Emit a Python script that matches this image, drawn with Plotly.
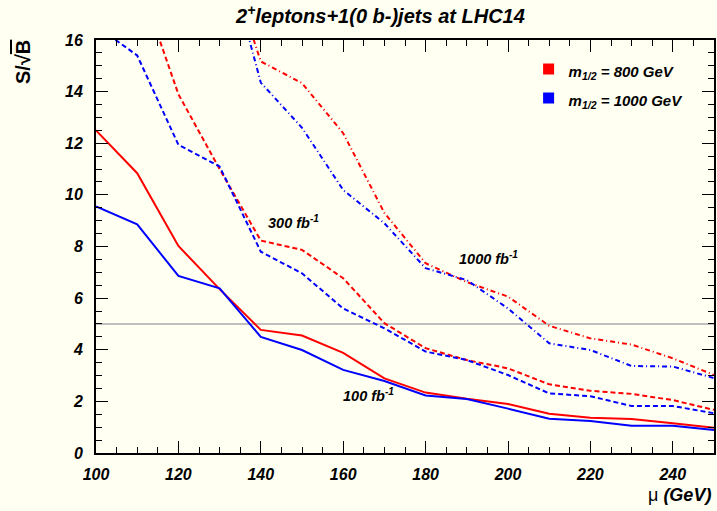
import plotly.graph_objects as go

mu = [100, 110, 120, 130, 140, 150, 160, 170, 180, 190, 200, 210, 220, 230, 240, 250]

# m_1/2 = 800 GeV (red)
red_100 = [12.5, 10.84, 8.02, 6.35, 4.77, 4.55, 3.88, 2.89, 2.34, 2.1, 1.9, 1.52, 1.37, 1.32, 1.15, 0.98]
red_300 = [21.6, 18.5, 13.9, 11.0, 8.23, 7.87, 6.77, 5.03, 4.06, 3.6, 3.28, 2.66, 2.41, 2.29, 2.05, 1.67]
red_1000 = [None, None, None, 20.0, 15.17, 14.33, 12.39, 9.3, 7.35, 6.62, 6.06, 4.93, 4.44, 4.2, 3.67, 3.02]

# m_1/2 = 1000 GeV (blue)
blue_100 = [9.55, 8.86, 6.86, 6.38, 4.5, 3.99, 3.22, 2.79, 2.23, 2.09, 1.72, 1.33, 1.24, 1.06, 1.06, 0.89]
blue_300 = [16.55, 15.4, 11.94, 11.1, 7.8, 6.96, 5.6, 4.83, 3.93, 3.6, 3.02, 2.31, 2.2, 1.82, 1.82, 1.54]
blue_1000 = [None, None, None, 20.3, 14.35, 12.6, 10.19, 8.9, 7.16, 6.7, 5.6, 4.25, 3.99, 3.37, 3.35, 2.9]

legend_labels = ["m<sub>1/2</sub> = 800 GeV", "m<sub>1/2</sub> = 1000 GeV"]
lumi_labels = ["100 fb<sup>-1</sup>", "300 fb<sup>-1</sup>", "1000 fb<sup>-1</sup>"]
lumi_label_pos = [(159.5, 2.25), (141.2, 8.95), (187.6, 7.56)]
threshold = 5

RED = "#ff0000"
BLUE = "#0000ff"
BG = "#fffff2"
FONT = "Liberation Sans"

fig = go.Figure()

series = [
    (red_100, RED, "solid"), (red_300, RED, "5px,3px"), (red_1000, RED, "5px,3px,1px,3px"),
    (blue_100, BLUE, "solid"), (blue_300, BLUE, "5px,3px"), (blue_1000, BLUE, "5px,3px,1px,3px"),
]

# threshold line S/sqrt(B) = 5
fig.add_trace(go.Scatter(x=[mu[0], mu[-1]], y=[threshold, threshold], mode="lines",
                         line=dict(color="#c0c0c0", width=2), showlegend=False, hoverinfo="skip"))

for ys, col, dash in series:
    fig.add_trace(go.Scatter(x=mu, y=ys, mode="lines", line=dict(color=col, width=2, dash=dash),
                             showlegend=False, connectgaps=False))

for lab, col in zip(legend_labels, [RED, BLUE]):
    fig.add_trace(go.Scatter(x=[None], y=[None], mode="markers",
                             marker=dict(symbol="square", size=11, color=col),
                             name="<span style='font-size:15px'>" + lab + "</span>"))

for lab, (lx, ly) in zip(lumi_labels, lumi_label_pos):
    fig.add_annotation(x=lx, y=ly, text=lab, showarrow=False, xanchor="left", yanchor="middle",
                       font=dict(family=FONT, size=14.5, color="black", weight="bold", style="italic"))

fig.add_annotation(xref="paper", yref="paper", x=0.5, xshift=-25, y=1.0, yshift=26,
                   text="2<sup>+</sup>leptons+1(0 b-)jets at LHC14", showarrow=False,
                   xanchor="center", yanchor="middle",
                   font=dict(family=FONT, size=20, color="black", weight="bold", style="italic"))

fig.add_annotation(xref="paper", yref="paper", x=0, xshift=-73, y=1.0, yshift=-22,
                   text="S/√<span style='text-decoration:overline'>B</span>", showarrow=False,
                   textangle=-90, xanchor="center", yanchor="middle",
                   font=dict(family=FONT, size=20, color="black", weight="bold"))

fig.add_annotation(xref="paper", yref="paper", x=1.0, xshift=-1, y=0, yshift=-42,
                   text="<span style='font-weight:normal;font-style:normal'>μ</span> (GeV)",
                   showarrow=False, xanchor="right", yanchor="middle",
                   font=dict(family=FONT, size=18, color="black", weight="bold", style="italic"))

axis_font = dict(family=FONT, size=16, color="black", weight="bold", style="italic")

fig.update_xaxes(range=[100, 250], tickmode="linear", tick0=100, dtick=20,
                 ticks="inside", ticklen=12, tickwidth=1, tickcolor="black",
                 minor=dict(dtick=5, ticklen=6, tickcolor="black", ticks="inside"),
                 showline=True, linecolor="black", linewidth=2, mirror="ticks",
                 showgrid=False, zeroline=False, tickfont=axis_font, ticklabelstandoff=6)
fig.update_yaxes(range=[0, 16], tickmode="linear", tick0=0, dtick=2,
                 ticks="inside", ticklen=12, tickwidth=1, tickcolor="black",
                 minor=dict(dtick=0.5, ticklen=6, tickcolor="black", ticks="inside"),
                 showline=True, linecolor="black", linewidth=2, mirror="ticks",
                 showgrid=False, zeroline=False, tickfont=axis_font, ticklabelstandoff=8)

fig.update_layout(
    width=717, height=511,
    margin=dict(l=96, r=1, t=40, b=58),
    paper_bgcolor=BG, plot_bgcolor=BG,
    showlegend=True,
    hovermode=False,
    legend=dict(x=0.70, y=0.977, xanchor="left", yanchor="top", bgcolor="rgba(0,0,0,0)",
                font=dict(family=FONT, size=20, color="black", weight="bold", style="italic"),
                itemclick=False),
)

fig.write_html("out.html", config={"displayModeBar": False},
               post_script="document.body.style.margin='0px';document.body.style.background='%s';" % BG)
